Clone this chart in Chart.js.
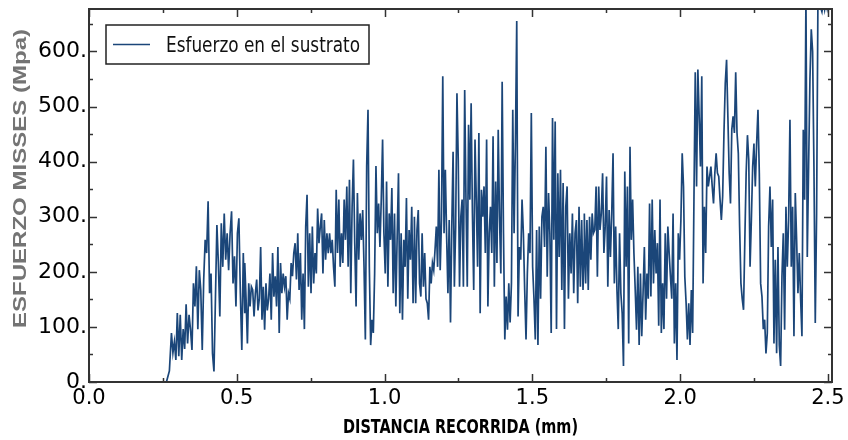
<!DOCTYPE html>
<html>
<head>
<meta charset="utf-8">
<script src="https://cdn.jsdelivr.net/npm/chart.js@4.4.1/dist/chart.umd.min.js"></script>
<style>
  html, body { margin: 0; padding: 0; background: #fff; }
  #wrap { width: 848px; height: 440px; }
</style>
</head>
<body>
<div id="wrap"><canvas id="chart" width="848" height="440"></canvas></div>
<script>
// --- DATA ---
const seriesName = 'Esfuerzo en el sustrato';
const xTitle = 'DISTANCIA RECORRIDA (mm)';
const yTitle = 'ESFUERZO MISSES (Mpa)';

const xTickValues = [0, 0.5, 1.0, 1.5, 2.0, 2.5];
const xTickLabels = ['0.0', '0.5', '1.0', '1.5', '2.0', '2.5'];
const xMinorTicks = [0.25, 0.75, 1.25, 1.75, 2.25];
const yTickValues = [0, 100, 200, 300, 400, 500, 600];
const yTickLabels = ['0.', '100.', '200.', '300.', '400.', '500.', '600.'];
const yMinorTicks = [50, 150, 250, 350, 450, 550, 650];

// flat part before contact
const flatDist = [0.0, 0.262, 0.272];
const flatStress = [0, 0, 20];

// sampled stretches (mm range, stress values in MPa)
const segStart = [0.279, 0.527, 0.814, 1.101, 1.389, 1.676, 1.963, 2.250];
const segEnd   = [0.527, 0.814, 1.101, 1.389, 1.676, 1.963, 2.250, 2.507];

const stressA = [89, 53, 73, 40, 125, 47, 122, 40, 96, 60, 141, 70, 122, 95, 58, 179, 137, 210, 96, 203,
  167, 58, 186, 258, 234, 328, 161, 197, 52, 19, 151, 285, 215, 119, 288, 209, 306, 222, 270, 203,
  270, 310, 179, 228, 137, 270, 297, 161, 58, 234, 125];
const stressB = [216, 151, 70, 179, 137, 173, 167, 119, 161, 186, 130, 151, 245, 113, 173, 95, 179, 130, 151, 197,
  113, 234, 155, 192, 137, 245, 89, 216, 161, 197, 173, 192, 113, 161, 151, 216, 192, 234, 252, 186,
  270, 167, 234, 113, 197, 96, 282, 340, 173, 270, 161, 282, 179, 234, 197, 315, 252, 282, 306, 197,
  294, 222, 270, 234, 270];
const stressC = [270, 234, 258, 209, 173, 349, 234, 331, 209, 270, 216, 331, 258, 355, 209, 367, 161, 318, 404, 252,
  137, 343, 222, 306, 258, 312, 209, 77, 392, 494, 209, 67, 113, 89, 197, 392, 270, 324, 245, 331,
  440, 270, 197, 364, 173, 306, 258, 352, 161, 306, 137, 264, 379, 125, 270, 113, 258, 209, 334, 151,
  276, 222, 318, 143, 270];
const stressD = [300, 143, 276, 312, 179, 155, 270, 173, 234, 151, 143, 113, 209, 179, 216, 203, 240, 282, 209, 385,
  203, 294, 555, 270, 385, 264, 161, 294, 108, 282, 418, 173, 282, 524, 404, 173, 300, 331, 173, 530,
  331, 173, 467, 331, 506, 306, 167, 440, 331, 209, 452, 125, 349, 300, 355, 234, 440, 137, 270, 318,
  234, 446, 173, 364, 216, 458, 300];
const stressE = [300, 197, 545, 270, 77, 155, 95, 179, 108, 179, 494, 270, 433, 655, 119, 245, 222, 331, 270, 167,
  77, 197, 270, 234, 488, 209, 151, 77, 276, 67, 282, 151, 300, 318, 245, 427, 191, 343, 270, 89,
  479, 258, 473, 96, 379, 227, 385, 167, 361, 96, 318, 355, 151, 270, 197, 306, 161, 270, 294, 143,
  318, 173, 294, 167, 258];
const stressF = [306, 179, 294, 167, 300, 222, 306, 270, 276, 355, 191, 355, 276, 306, 379, 234, 282, 373, 173, 312,
  227, 306, 415, 179, 282, 167, 96, 270, 161, 125, 29, 382, 209, 355, 70, 427, 258, 331, 234, 167,
  95, 209, 67, 197, 83, 161, 245, 113, 197, 151, 324, 155, 331, 179, 276, 197, 252, 102, 331, 89,
  179, 96, 270, 151, 282, 234];
const stressG = [234, 191, 151, 306, 70, 179, 40, 270, 222, 294, 415, 355, 191, 143, 77, 143, 67, 167, 89, 331,
  562, 355, 567, 482, 391, 555, 179, 318, 234, 391, 355, 373, 391, 355, 324, 379, 415, 379, 373, 331,
  294, 337, 452, 542, 585, 482, 379, 324, 458, 482, 452, 562, 452, 415, 282, 179, 151, 131, 258, 379,
  448, 404, 209, 294, 391, 433];
const stressH = [427, 355, 433, 494, 379, 179, 155, 96, 113, 52, 89, 282, 355, 245, 331, 70, 222, 52, 245, 67,
  29, 191, 270, 95, 318, 209, 294, 476, 209, 318, 83, 343, 258, 161, 234, 151, 83, 458, 331, 700,
  227, 391, 549, 640, 600, 391, 107, 306, 695, 690, 680, 672, 690, 676, 695, 678, 690, 685];

const segments = [stressA, stressB, stressC, stressD, stressE, stressF, stressG, stressH];

const X_MAX = 2.514;
const Y_MAX = 677;
const LINE_COLOR = '#1b4679';

// build points from the arrays
const points = flatDist.map((d, i) => ({ x: d, y: flatStress[i] }));
segments.forEach((vals, s) => {
    const step = (segEnd[s] - segStart[s]) / (vals.length - 1);
    vals.forEach((v, i) => points.push({ x: segStart[s] + i * step, y: v }));
});

// draw text squeezed/stretched to a target width
const fitText = (ctx, text, x, y, width, font, color) => {
    ctx.save();
    ctx.font = font;
    ctx.fillStyle = color;
    ctx.textAlign = 'left';
    ctx.textBaseline = 'alphabetic';
    const w = ctx.measureText(text).width;
    ctx.translate(x, y);
    ctx.scale(width / w, 1);
    ctx.fillText(text, 0, 0);
    ctx.restore();
};

const decor = {
    id: 'decor',
    beforeDraw(chart) {
        const ctx = chart.ctx;
        ctx.save();
        ctx.fillStyle = '#fff';
        ctx.fillRect(0, 0, chart.width, chart.height);
        ctx.restore();
    },
    afterDraw(chart) {
        const ctx = chart.ctx;
        const { left, right, top, bottom } = chart.chartArea;
        const xs = chart.scales.x, ys = chart.scales.y;
        ctx.save();

        // inward tick marks on all four sides
        ctx.strokeStyle = '#333';
        ctx.lineWidth = 1.5;
        const tick = (x1, y1, x2, y2) => { ctx.beginPath(); ctx.moveTo(x1, y1); ctx.lineTo(x2, y2); ctx.stroke(); };
        xTickValues.forEach(v => { const p = Math.round(xs.getPixelForValue(v)) + 0.5; tick(p, bottom, p, bottom - 8); tick(p, top, p, top + 8); });
        xMinorTicks.forEach(v => { const p = Math.round(xs.getPixelForValue(v)) + 0.5; tick(p, bottom, p, bottom - 4); tick(p, top, p, top + 4); });
        yTickValues.forEach(v => { const p = Math.round(ys.getPixelForValue(v)) + 0.5; tick(left, p, left + 8, p); tick(right, p, right - 8, p); });
        yMinorTicks.forEach(v => { const p = Math.round(ys.getPixelForValue(v)) + 0.5; tick(left, p, left + 4, p); tick(right, p, right - 4, p); });

        // frame
        ctx.strokeStyle = '#333';
        ctx.lineWidth = 2;
        ctx.strokeRect(left, top, right - left, bottom - top);

        // legend
        ctx.fillStyle = '#fff';
        ctx.fillRect(106, 25, 263, 39);
        ctx.strokeStyle = '#222';
        ctx.lineWidth = 1.5;
        ctx.strokeRect(106, 25, 263, 39);
        ctx.strokeStyle = LINE_COLOR;
        ctx.lineWidth = 1.5;
        tick(113, 44.5, 150, 44.5);
        fitText(ctx, seriesName, 166, 52, 194, '21px "DejaVu Sans Condensed", "DejaVu Sans"', '#111');

        // x title
        fitText(ctx, xTitle, 343, 433, 235, 'bold 20px "DejaVu Sans Condensed", "DejaVu Sans"', '#000');

        // y title (rotated)
        ctx.save();
        ctx.translate(26, 328);
        ctx.rotate(-Math.PI / 2);
        fitText(ctx, yTitle, 0, 0, 299, 'bold 18px "Liberation Sans"', '#747474');
        ctx.restore();

        ctx.restore();
    }
};

new Chart(document.getElementById('chart'), {
    type: 'line',
    data: {
        datasets: [{
            label: seriesName,
            data: points,
            borderColor: LINE_COLOR,
            borderWidth: 1.7,
            pointRadius: 0,
            tension: 0,
            fill: false
        }]
    },
    options: {
        responsive: false,
        animation: false,
        devicePixelRatio: 1,
        layout: { padding: { top: 9, right: 16, left: 0, bottom: 0 } },
        plugins: { legend: { display: false }, tooltip: { enabled: false } },
        scales: {
            x: {
                type: 'linear', min: 0, max: X_MAX,
                grid: { display: false, drawTicks: false },
                border: { display: false },
                afterBuildTicks: (s) => { s.ticks = xTickValues.map(v => ({ value: v })); },
                afterFit: (s) => { s.height = 58; s.paddingLeft = 0; s.paddingRight = 0; },
                ticks: {
                    autoSkip: false, maxRotation: 0, padding: 4, color: '#000',
                    font: { family: 'DejaVu Sans', size: 21 },
                    callback: (v, i) => xTickLabels[i]
                }
            },
            y: {
                min: 0, max: Y_MAX,
                grid: { display: false, drawTicks: false },
                border: { display: false },
                afterBuildTicks: (s) => { s.ticks = yTickValues.map(v => ({ value: v })); },
                afterFit: (s) => { s.width = 89; s.paddingTop = 0; s.paddingBottom = 0; },
                ticks: {
                    autoSkip: false, padding: 2, color: '#000',
                    font: { family: 'DejaVu Sans', size: 22 },
                    callback: (v, i) => yTickLabels[i]
                }
            }
        }
    },
    plugins: [decor]
});
</script>
</body>
</html>
